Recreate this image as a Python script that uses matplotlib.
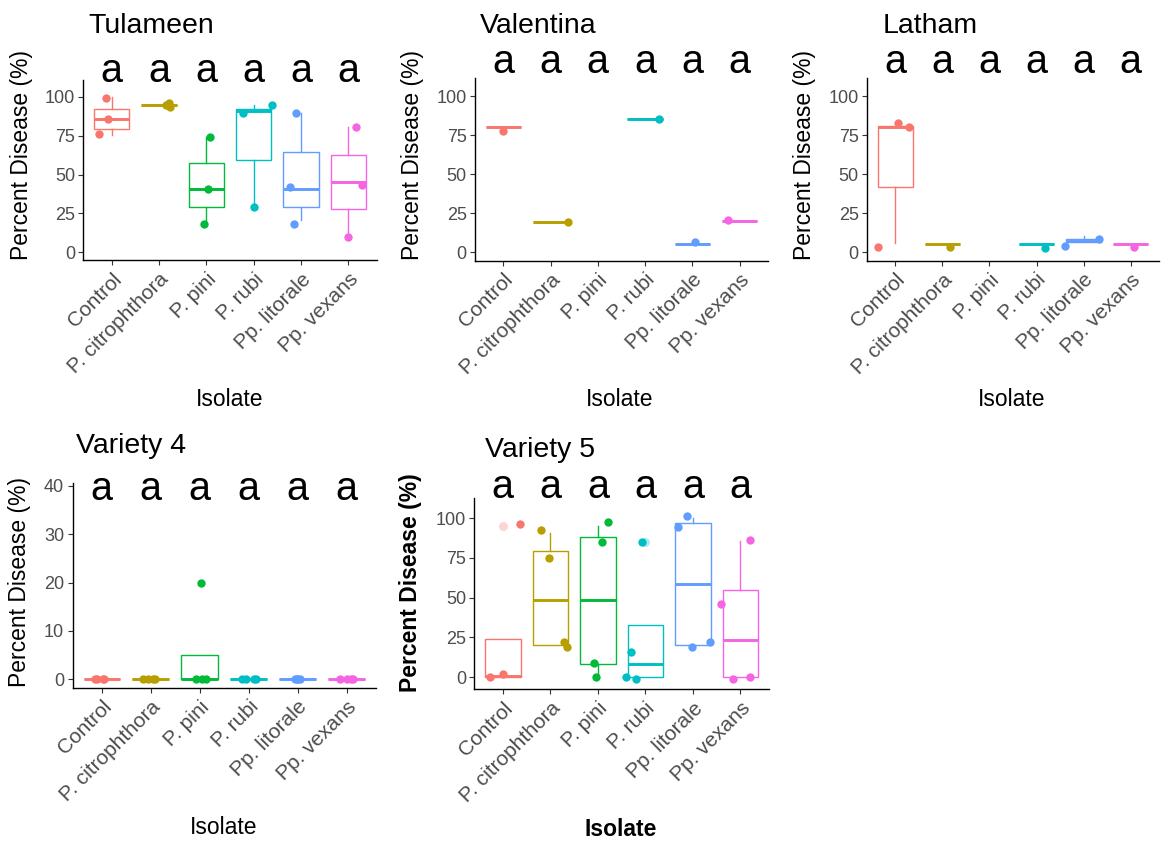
import matplotlib
matplotlib.use("Agg")
import matplotlib.pyplot as plt

plt.rcParams['font.family'] = ['Liberation Sans', 'DejaVu Sans']

# ---------------- data ----------------
isolates = ["Control", "P. citrophthora", "P. pini", "P. rubi", "Pp. litorale", "Pp. vexans"]
colors = ["#F8766D", "#B79F00", "#00BA38", "#00BFC4", "#619CFF", "#F564E3"]
letters = ["a", "a", "a", "a", "a", "a"]

# box stats per isolate: (lower whisker, q1, median, q3, upper whisker); None = no data
tul_box = [(75.4, 79.5, 86.0, 92.0, 100.0),
           (95.0, 95.0, 95.0, 95.0, 95.0),
           (18.6, 29.3, 40.5, 57.2, 74.3),
           (29.3, 59.3, 91.0, 92.0, 95.0),
           (20.8, 29.3, 40.5, 64.5, 89.3),
           (10.0, 27.6, 45.4, 62.3, 80.7)]
tul_pts = [[99.4, 86.0, 75.8], [96.0, 93.2, 95.0], [74.3, 40.7, 18.2],
           [89.3, 95.0, 29.3], [89.3, 42.2, 18.2], [80.7, 43.0, 10.0]]
tul_jit = [[-0.12, -0.07, -0.27], [0.21, 0.23, 0.15], [0.07, 0.03, -0.04],
           [-0.22, 0.38, 0.0], [-0.11, -0.23, -0.14], [0.17, 0.29, 0.0]]

val_box = [(80.0, 80.0, 80.0, 80.0, 80.0),
           (19.6, 19.6, 19.6, 19.6, 19.6),
           None,
           (85.0, 85.0, 85.0, 85.0, 85.0),
           (5.5, 5.5, 5.5, 5.5, 5.5),
           (20.0, 20.0, 20.0, 20.0, 20.0)]
val_pts = [[77.4], [19.2], [], [85.5], [6.4], [20.5]]
val_jit = [[0.0], [0.36], [], [0.3], [0.06], [-0.24]]

lat_box = [(5.8, 41.8, 80.4, 81.0, 81.0),
           (5.5, 5.5, 5.5, 5.5, 5.5),
           None,
           (5.5, 5.5, 5.5, 5.5, 5.5),
           (6.4, 6.4, 7.5, 8.5, 10.7),
           (5.5, 5.5, 5.5, 5.5, 5.5)]
lat_pts = [[83.0, 80.4, 3.2], [3.6], [], [2.6], [4.0, 8.3], [3.6]]
lat_jit = [[0.06, 0.3, -0.37], [0.16], [], [0.18], [-0.4, 0.32], [0.06]]

v4_box = [(0.0, 0.0, 0.0, 0.0, 0.0),
          (0.0, 0.0, 0.0, 0.0, 0.0),
          (0.0, 0.0, 0.0, 5.0, 5.0),
          (0.0, 0.0, 0.0, 0.0, 0.0),
          (0.0, 0.0, 0.0, 0.0, 0.0),
          (0.0, 0.0, 0.0, 0.0, 0.0)]
v4_pts = [[0, 0, 0, 0], [0, 0, 0, 0], [20.0, 0, 0, 0],
          [0, 0, 0, 0], [0, 0, 0, 0], [0, 0, 0, 0]]
v4_jit = [[-0.15, -0.1, 0.03, 0.05], [-0.15, -0.05, 0.05, 0.08], [0.03, -0.08, 0.12, 0.05],
          [-0.14, -0.05, 0.15, 0.1], [-0.05, -0.02, 0.0, 0.05], [-0.14, 0.01, 0.14, 0.08]]

v5_box = [(0.4, 0.4, 0.8, 23.9, 23.9),
          (20.1, 20.1, 48.6, 79.0, 90.6),
          (0.0, 8.2, 48.6, 88.0, 95.2),
          (0.0, 0.0, 8.6, 32.9, 32.9),
          (20.1, 20.1, 58.5, 97.0, 100.0),
          (0.0, 0.0, 23.5, 55.1, 85.3)]
v5_out = [[95.2], [], [], [85.0], [], []]
v5_pts = [[0.4, 2.0, 96.2], [92.2, 75.0, 22.2, 18.9], [97.3, 85.0, 9.2, 0.0],
          [85.0, 15.9, 0.0, -1.3], [101.5, 94.1, 19.0, 22.0], [86.0, 45.9, -1.3, 0.0]]
v5_jit = [[-0.27, 0.0, 0.36], [-0.2, -0.03, 0.29, 0.36], [0.22, 0.09, -0.08, -0.05],
          [-0.08, -0.3, -0.41, -0.2], [-0.12, -0.31, -0.02, 0.35], [0.21, -0.41, -0.15, 0.19]]

# ---------------- layout ----------------
W, H = 1168, 842
fig = plt.figure(figsize=(W / 100, H / 100), dpi=100)

TICK_C = "#4D4D4D"


def px_axes(l, t, r, b):
    return fig.add_axes([l / W, 1 - b / H, (r - l) / W, (b - t) / H])


def draw_panel(box, pts, jit, out, rect, ylim, yticks, title, title_xy, letter_y,
               xlab_xy, ylab_xy, bold=False):
    ax = px_axes(*rect)
    for i, c in enumerate(colors):
        pos = i + 1
        b = box[i]
        if b is not None:
            st = dict(whislo=b[0], q1=b[1], med=b[2], q3=b[3], whishi=b[4],
                      fliers=(out[i] if out else []))
            ax.bxp([st], positions=[pos], widths=0.75, showcaps=False,
                   showfliers=True, patch_artist=True, manage_ticks=False,
                   boxprops=dict(facecolor="white", edgecolor=c, linewidth=1.0),
                   whiskerprops=dict(color=c, linewidth=1.0),
                   medianprops=dict(color=c, linewidth=2.1, solid_capstyle="butt"),
                   flierprops=dict(marker="o", markerfacecolor=c, markeredgecolor="none",
                                   alpha=0.3, markersize=6.5),
                   zorder=2)
        if pts[i]:
            xs = [pos + j for j in jit[i]]
            ax.scatter(xs, pts[i], s=36, color=c, linewidths=0, zorder=3, clip_on=False)
        ax.text(pos, letter_y, letters[i], ha="center", va="baseline", fontsize=28.5,
                color="black", clip_on=False)
    ax.set_xlim(0.4, 6.6)
    ax.set_ylim(*ylim)
    ax.set_yticks(yticks)
    ax.set_yticklabels([str(v) for v in yticks], fontsize=13, color=TICK_C)
    ax.set_xticks(range(1, 7))
    ax.set_xticklabels(isolates, rotation=45, ha="right", va="top",
                       rotation_mode="anchor", fontsize=15, color=TICK_C)
    for s in ["top", "right"]:
        ax.spines[s].set_visible(False)
    for s in ["left", "bottom"]:
        ax.spines[s].set_linewidth(1.0)
        ax.spines[s].set_color("black")
    ax.tick_params(axis="both", length=3.5, width=0.8, color="#333333", pad=2.5)
    ax.tick_params(axis="x", pad=3.5)
    ax.set_facecolor("white")
    fw = "bold" if bold else "normal"
    fig.text(title_xy[0] / W, 1 - title_xy[1] / H, title, fontsize=20.5,
             ha="left", va="baseline")
    fig.text(xlab_xy[0] / W, 1 - xlab_xy[1] / H, "Isolate", fontsize=16.5,
             ha="center", va="center", fontweight=fw)
    fig.text(ylab_xy[0] / W, 1 - ylab_xy[1] / H, "Percent Disease (%)", fontsize=16.5,
             ha="center", va="center", rotation=90, fontweight=fw)
    return ax


top_ticks = [0, 25, 50, 75, 100]
draw_panel(tul_box, tul_pts, tul_jit, None, (83.3, 80, 376.7, 260), (-5, 110.8), top_ticks,
           "Tulameen", (88, 33), 109.6, (230, 399), (22, 155))
draw_panel(val_box, val_pts, val_jit, None, (475, 78.5, 768, 260.5), (-5.2, 111.2), top_ticks,
           "Valentina", (480, 33), 114.5, (620, 399), (413, 155))
draw_panel(lat_box, lat_pts, lat_jit, None, (867, 78.5, 1159, 260.5), (-5.2, 111.2), top_ticks,
           "Latham", (883, 33), 114.5, (1012, 399), (804, 155))
draw_panel(v4_box, v4_pts, v4_jit, None, (72.5, 483, 376, 687.5), (-1.7, 40.6),
           [0, 10, 20, 30, 40],
           "Variety 4", (76, 453), 37.0, (224, 828), (20, 582))
draw_panel(v5_box, v5_pts, v5_jit, v5_out, (474.3, 498, 769, 689), (-7.4, 112.6), top_ticks,
           "Variety 5", (485, 457), 112.6, (621, 829), (411, 583), bold=True)

fig.savefig("out.png", dpi=100, facecolor="white")
